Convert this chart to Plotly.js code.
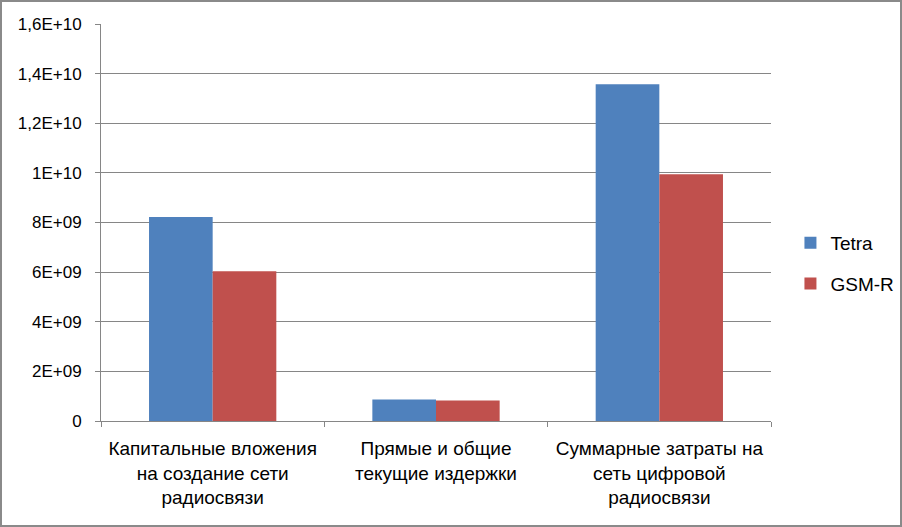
<!DOCTYPE html>
<html>
<head>
<meta charset="utf-8">
<script src="https://cdn.plot.ly/plotly-3.0.1.min.js"></script>
<style>
html,body{margin:0;padding:0;background:#fff;}
#wrap{width:902px;height:527px;box-sizing:border-box;border:2px solid #8a8a8a;overflow:hidden;}
#chart{width:898px;height:523px;}
</style>
</head>
<body>
<div id="wrap"><div id="chart"></div></div>
<script>
const categories = [
  "Капитальные вложения<br>на создание сети<br>радиосвязи",
  "Прямые и общие<br>текущие издержки",
  "Суммарные затраты на<br>сеть цифровой<br>радиосвязи"
];
const tetraValues = [8.22e9, 0.87e9, 13.57e9];
const gsmrValues = [6.04e9, 0.83e9, 9.94e9];
const yTickVals = [0, 2e9, 4e9, 6e9, 8e9, 1e10, 1.2e10, 1.4e10, 1.6e10];
const yTickText = ["0", "2E+09", "4E+09", "6E+09", "8E+09", "1E+10", "1,2E+10", "1,4E+10", "1,6E+10"];

const fam = "Liberation Sans, Arial, sans-serif";
const yFont = {family: fam, size: 17, color: "#000"};
const xFont = {family: fam, size: 19, color: "#000"};
const legFont = {family: fam, size: 19, color: "#000"};

const data = [
  {type: "bar", name: "Tetra", x: categories, y: tetraValues,
   marker: {color: "#4F81BD"}, legendgroup: "a", hoverinfo: "none"},
  {type: "bar", name: "GSM-R", x: categories, y: gsmrValues,
   marker: {color: "#C0504D"}, legendgroup: "b", hoverinfo: "none"}
];

const layout = {
  width: 898, height: 523,
  margin: {l: 99, r: 129, t: 22, b: 104, pad: 0},
  paper_bgcolor: "#fff", plot_bgcolor: "#fff",
  font: yFont,
  barmode: "group",
  bargap: 0.43, bargroupgap: 0,
  showlegend: true,
  legend: {xref: "container", yref: "container",
           x: 0.878, xanchor: "left", y: 0.5, yanchor: "middle",
           font: legFont, traceorder: "grouped", tracegroupgap: 13,
           itemwidth: 30, bgcolor: "rgba(0,0,0,0)"},
  xaxis: {type: "category", showline: true, linecolor: "#868686", linewidth: 1,
          ticks: "outside", tickson: "boundaries", ticklen: 5, tickcolor: "#868686",
          showgrid: false, tickfont: xFont, ticklabelstandoff: 10,
          fixedrange: true, automargin: false},
  yaxis: {range: [0, 1.6e10], tickvals: yTickVals, ticktext: yTickText,
          showline: true, linecolor: "#868686", linewidth: 1,
          ticks: "outside", ticklen: 5, tickcolor: "#868686",
          showgrid: true, gridcolor: "#868686", gridwidth: 1,
          zeroline: false, tickfont: yFont, ticklabelstandoff: 10,
          fixedrange: true, automargin: false}
};

Plotly.newPlot("chart", data, layout, {displayModeBar: false, staticPlot: true});
</script>
</body>
</html>
